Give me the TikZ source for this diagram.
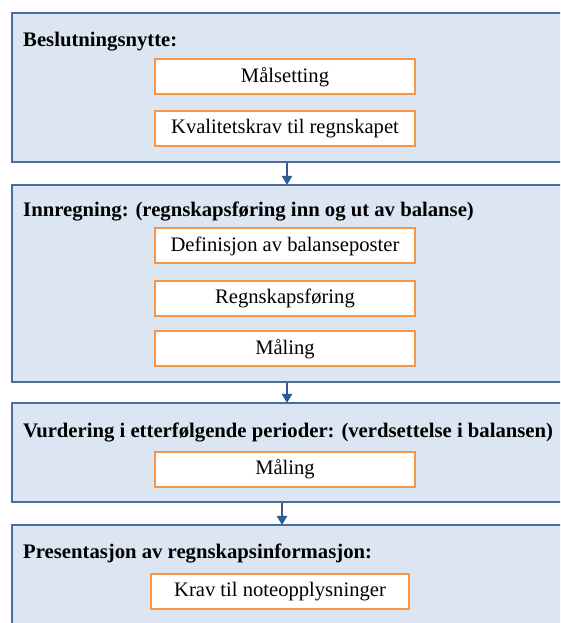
\documentclass[tikz,border=0pt]{standalone}
\usepackage{fontspec}
\setmainfont{Liberation Serif}
\usetikzlibrary{arrows.meta}
\definecolor{outerfill}{HTML}{DCE6F2}
\definecolor{outerline}{HTML}{4A6D9C}
\definecolor{innerline}{HTML}{F79646}
\definecolor{arrowcol}{HTML}{2F5A94}
\tikzset{
  outerbox/.style={draw=outerline, fill=outerfill, line width=2pt, minimum width=556pt, inner sep=0pt},
  innerbox/.style={draw=innerline, fill=white, line width=2pt, minimum height=35pt, inner sep=0pt, font=\fontsize{20.6}{23}\selectfont},
  titletext/.style={anchor=west, inner sep=0pt, font=\fontsize{20.7}{23}\selectfont\bfseries},
  arr/.style={draw=arrowcol, line width=2pt, -{Triangle[length=9pt,width=10pt]}, shorten >=-1pt}
}
\begin{document}
\begin{tikzpicture}[x=1pt,y=1pt]
\useasboundingbox (0,0) rectangle (560,623);
\begin{scope}
\clip (0,0) rectangle (560,623);
\node[outerbox, minimum height=149pt] (b1) at (290,535.5) {};
\node[outerbox, minimum height=197pt] (b2) at (290,339.5) {};
\node[outerbox, minimum height=99pt] (b3) at (290,170.5) {};
\node[outerbox, minimum height=118pt] (b4) at (290,39) {};

\node[titletext] (t1) at (23,581) {Beslutningsnytte:};
\node[titletext] (t2) at (23,411) {Innregning: (regnskapsføring inn og ut av balanse)};
\node[titletext] (t3) at (23,191) {Vurdering i etterfølgende perioder: (verdsettelse i balansen)};
\node[titletext] (t4) at (23,70) {Presentasjon av regnskapsinformasjon:};

\node[innerbox, minimum width=260pt] (m1) at (285,546) {Målsetting};
\node[innerbox, minimum width=260pt] (m2) at (285,494.5) {Kvalitetskrav til regnskapet};
\node[innerbox, minimum width=260pt] (m3) at (285,377) {Definisjon av balanseposter};
\node[innerbox, minimum width=260pt] (m4) at (285,324.5) {Regnskapsføring};
\node[innerbox, minimum width=260pt] (m5) at (285,274) {Måling};
\node[innerbox, minimum width=260pt] (m6) at (285,153.5) {Måling};
\node[innerbox, minimum width=258pt] (m7) at (280,31) {Krav til noteopplysninger};

\coordinate (ax1) at (287,0);
\coordinate (ax2) at (282,0);
\draw[arr] (b1.south -| ax1) -- (b2.north -| ax1);
\draw[arr] (b2.south -| ax1) -- (b3.north -| ax1);
\draw[arr] (b3.south -| ax2) -- (b4.north -| ax2);
\end{scope}
\end{tikzpicture}
\end{document}
